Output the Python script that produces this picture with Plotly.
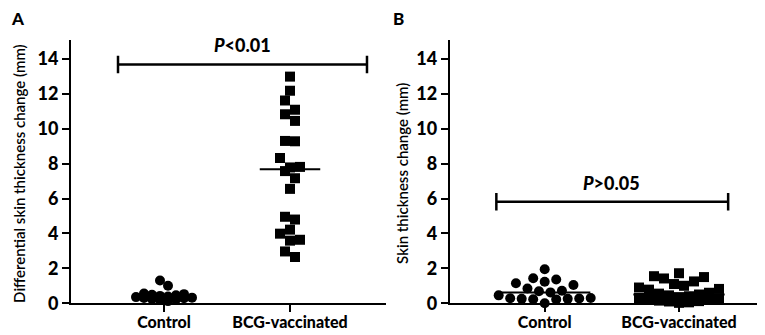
import numpy as np
import plotly.graph_objects as go

# ---------------- data ----------------
categories = ["Control", "BCG-vaccinated"]

a_control = [1.30, 1.00, 0.55, 0.52, 0.48, 0.45, 0.42, 0.38, 0.35, 0.32, 0.30, 0.28, 0.25, 0.22, 0.18, 0.12]
a_bcg = [13.0, 12.19, 11.63, 11.1, 10.84, 10.46, 9.31, 9.29, 8.33, 7.82, 7.79,
         7.58, 7.17, 6.56, 4.96, 4.80, 4.22, 3.99, 3.64, 3.59, 2.97, 2.65]

b_control = [1.95, 1.43, 1.36, 1.23, 1.15, 1.04, 0.84, 0.72, 0.69, 0.62, 0.45,
             0.30, 0.28, 0.27, 0.25, 0.25, 0.23, 0.22, 0.0]
b_bcg = [1.72, 1.55, 1.50, 1.42, 1.25, 1.10, 1.00, 0.90, 0.82, 0.78, 0.60, 0.55,
         0.50, 0.45, 0.40, 0.35, 0.30, 0.28, 0.25, 0.20, 0.15, 0.12, 0.10, 0.05, 0.02]

y_ticks = [0, 2, 4, 6, 8, 10, 12, 14]
p_labels = ["<i>P</i>&lt;0.01", "<i>P</i>&gt;0.05"]
p_levels = [13.7, 5.82]
y_titles = ["Differential skin thickness change (mm)", "Skin thickness change (mm)"]
panel_letters = ["A", "B"]

# ---------------- geometry ----------------
W, H = 765, 335
y_bot_px, y_top_px = 304.3, 33.0
Y_MAX = 15.1
ppu_y = (y_bot_px - y_top_px) / Y_MAX

panels = [
    dict(x0=63, x1=378, c0=156, c1=282),
    dict(x0=441.7, x1=761, c0=536.7, c1=671),
]
for p in panels:
    sp = p["c1"] - p["c0"]
    p["ppu_x"] = sp
    p["range"] = [(p["x0"] - p["c0"]) / sp, (p["x1"] - p["c0"]) / sp]

D = 10.0     # marker size px
ROW_H = 10.0  # px height of a swarm row


def swarm(vals, ppu_x, dx, maxn):
    """Group sorted values into rows and spread each row horizontally."""
    order = list(np.argsort(vals))
    rows, cur = [], []
    for i in order:
        if cur and ((vals[i] - vals[cur[0]]) * ppu_y >= ROW_H or len(cur) >= maxn):
            rows.append(cur)
            cur = []
        cur.append(i)
    if cur:
        rows.append(cur)
    res = [0.0] * len(vals)
    for row in rows:
        n = len(row)
        slots = [(k - (n - 1) / 2.0) for k in range(n)]
        slots.sort(key=lambda s: (abs(s), -s))
        for i, s in zip(row, slots):
            res[i] = s * dx / ppu_x
    return res


fig = go.Figure()

groups = [
    (0, 0, a_control, "circle", 8.0, 8),
    (0, 1, a_bcg, "square", 10.0, 8),
    (1, 0, b_control, "circle", 11.5, 9),
    (1, 1, b_bcg, "square", 10.0, 9),
]
med_half = [0.24, 0.34]
for pi, ci, vals, sym, dx, maxn in groups:
    p = panels[pi]
    offs = swarm(vals, p["ppu_x"], dx, maxn)
    xa = "x" if pi == 0 else "x2"
    ya = "y" if pi == 0 else "y2"
    fig.add_trace(go.Scatter(
        x=[ci + o for o in offs], y=vals, mode="markers",
        marker=dict(symbol=sym, size=D, color="black", line=dict(width=0)),
        xaxis=xa, yaxis=ya, showlegend=False, cliponaxis=False))
    med = float(np.median(vals))
    fig.add_trace(go.Scatter(
        x=[ci - med_half[pi], ci + med_half[pi]], y=[med, med], mode="lines",
        line=dict(color="black", width=2), xaxis=xa, yaxis=ya,
        showlegend=False, cliponaxis=False))

ydom = [1 - y_bot_px / H, 1 - y_top_px / H]
FONT = "Lato"
tickfont = dict(family=FONT, size=18, color="black", weight=900)
catfont = dict(family=FONT, size=16, color="black", weight=900)

axis_common = dict(showgrid=False, zeroline=False, showline=True, linecolor="black",
                   linewidth=2, ticks="outside", tickcolor="black", tickwidth=2, ticklen=7)

layout = dict(
    width=W, height=H, margin=dict(l=0, r=0, t=0, b=0),
    plot_bgcolor="white", paper_bgcolor="white",
)
for pi, p in enumerate(panels):
    sfx = "" if pi == 0 else "2"
    layout["xaxis" + sfx] = dict(
        axis_common, domain=[p["x0"] / W, p["x1"] / W], range=p["range"],
        tickmode="array", tickvals=[0, 1], ticktext=categories,
        tickfont=catfont, anchor="y" + sfx, ticklabelstandoff=-3)
    layout["yaxis" + sfx] = dict(
        axis_common, domain=ydom, range=[0, Y_MAX], tickmode="array",
        tickvals=y_ticks, ticktext=[str(t) for t in y_ticks], tickfont=tickfont,
        anchor="x" + sfx)

fig.update_layout(**layout)

# significance bars
bars = [(-0.365, 1.611), (-0.36, 1.366)]
txt_x = [0.62, 0.50]
shapes = []
annotations = []
for pi, (xa0, xa1) in enumerate(bars):
    sfx = "" if pi == 0 else "2"
    lvl = p_levels[pi]
    cap = 9 / ppu_y
    shapes.append(dict(type="line", xref="x" + sfx, yref="y" + sfx, x0=xa0, x1=xa1,
                       y0=lvl, y1=lvl, line=dict(color="black", width=2.5)))
    for xx in (xa0, xa1):
        shapes.append(dict(type="line", xref="x" + sfx, yref="y" + sfx, x0=xx, x1=xx,
                           y0=lvl - cap, y1=lvl + cap, line=dict(color="black", width=2.5)))
    annotations.append(dict(xref="x" + sfx, yref="y" + sfx, x=txt_x[pi], y=lvl + 0.35,
                            text=p_labels[pi], showarrow=False, yanchor="bottom",
                            font=dict(family=FONT, size=18, color="black", weight=900)))

# y-axis titles
for (xp, yp), t in zip([(11, 171), (394, 170)], y_titles):
    annotations.append(dict(xref="paper", yref="paper", x=xp / W, y=1 - yp / H, text=t,
                            textangle=-90, showarrow=False, xanchor="center", yanchor="middle",
                            font=dict(family=FONT, size=15, color="black", weight=600)))

for lab, xp in zip(panel_letters, [10, 391]):
    annotations.append(dict(xref="paper", yref="paper", x=xp / W, y=1 - 11 / H,
                            text=lab,
                            showarrow=False, xanchor="center", yanchor="middle",
                            font=dict(family=FONT, size=17, color="black", weight=900)))

fig.update_layout(shapes=shapes, annotations=annotations)
fig.write_html("out.html")
